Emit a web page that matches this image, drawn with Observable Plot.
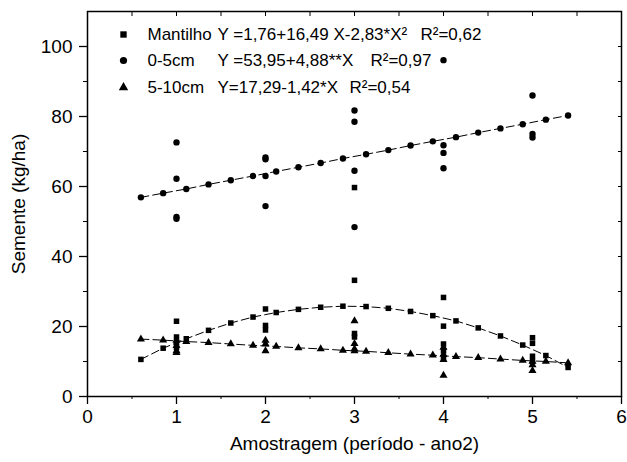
<!DOCTYPE html>
<html>
<head>
<meta charset="utf-8">
<script src="https://cdn.jsdelivr.net/npm/d3@7"></script>
<script src="https://cdn.jsdelivr.net/npm/@observablehq/plot@0.6"></script>
<style>
  html, body { margin: 0; padding: 0; background: white; }
  #chart { width: 627px; height: 462px; }
</style>
</head>
<body>
<div id="chart"></div>
<script>
// ---- data ----
const seriesNames = ["Mantilho", "0-5cm", "5-10cm"];
const seriesSymbols = ["square", "circle", "triangle"];

// fitted-curve points (equal spacing along x)
const fitX = [0.6, 0.85, 1.11, 1.36, 1.61, 1.86, 2.12, 2.37, 2.62, 2.87, 3.13, 3.38, 3.63, 3.88, 4.14, 4.39, 4.64, 4.89, 5.15, 5.4];
const fitMantilho = [10.6, 13.8, 16.5, 18.9, 21.0, 22.7, 24.0, 24.9, 25.5, 25.8, 25.7, 25.2, 24.3, 23.1, 21.6, 19.6, 17.3, 14.7, 11.7, 8.3];
const fit05 = [56.9, 58.1, 59.3, 60.6, 61.8, 63.0, 64.3, 65.5, 66.7, 68.0, 69.2, 70.4, 71.7, 72.9, 74.1, 75.4, 76.6, 77.8, 79.1, 80.3];
const fit510 = [16.4, 16.1, 15.7, 15.4, 15.0, 14.6, 14.3, 13.9, 13.6, 13.2, 12.9, 12.5, 12.1, 11.8, 11.4, 11.1, 10.7, 10.3, 10.0, 9.6];

// observed points
const obsMantilhoX = [1, 1, 1, 1, 2, 2, 2, 3, 3, 3, 3, 4, 4, 4, 4, 4, 5, 5, 5, 5];
const obsMantilhoY = [21.5, 17.0, 15.5, 14.0, 25.0, 20.3, 19.0, 59.7, 33.2, 18.0, 17.0, 28.3, 20.1, 15.0, 13.0, 11.0, 16.8, 15.2, 11.5, 10.0];
const obs05X = [1, 1, 1, 1, 2, 2, 2, 2, 3, 3, 3, 3, 4, 4, 4, 4, 5, 5, 5];
const obs05Y = [72.6, 62.2, 51.3, 50.8, 68.3, 67.8, 63.0, 54.4, 81.7, 78.5, 64.5, 48.4, 96.1, 71.8, 69.6, 65.2, 86.0, 75.0, 74.0];
const obs510X = [1, 1, 1, 1, 2, 2, 2, 3, 3, 3, 3, 4, 4, 4, 4, 5, 5, 5];
const obs510Y = [16.0, 14.5, 13.0, 12.5, 16.0, 15.0, 13.0, 21.6, 15.1, 13.6, 13.0, 14.0, 12.0, 10.5, 6.0, 10.0, 9.0, 7.4];

// legend equation texts
const equations = ["Y =1,76+16,49 X-2,83*X²", "Y =53,95+4,88**X", "Y=17,29-1,42*X"];
const r2Texts = ["R²=0,62", "R²=0,97", "R²=0,54"];

// axes
const xTicks = [0, 1, 2, 3, 4, 5, 6];
const xHalfTicks = [0.5, 1.5, 2.5, 3.5, 4.5, 5.5];
const xAllHalf = [0.5, 1, 1.5, 2, 2.5, 3, 3.5, 4, 4.5, 5, 5.5];
const yTicks = [0, 20, 40, 60, 80, 100];
const yMinorTicks = [10, 30, 50, 70, 90];
const yAllTen = [10, 20, 30, 40, 50, 60, 70, 80, 90, 100];
const xTitle = "Amostragem (período - ano2)";
const yTitle = "Semente (kg/ha)";

// ---- build tables ----
const fitData = [fitMantilho, fit05, fit510].map((ys, s) =>
  ys.map((y, i) => ({x: fitX[i], y, s: seriesNames[s], sym: seriesSymbols[s]}))).flat();
const obsData = [[obsMantilhoX, obsMantilhoY], [obs05X, obs05Y], [obs510X, obs510Y]].map(([xs, ys], s) =>
  ys.map((y, i) => ({x: xs[i], y, s: seriesNames[s], sym: seriesSymbols[s]}))).flat();
const allPts = fitData.concat(obsData);

const rowDy = [23, 49, 76];
const r2Dx = [333, 283, 262];

const legendMarks = [];
seriesNames.forEach((name, i) => {
  legendMarks.push(Plot.dot([seriesSymbols[i]], {frameAnchor: "top-left", dx: 36, dy: rowDy[i], symbol: d => d, r: seriesSymbols[i] === "triangle" ? 3.5 : 3.6, fill: "black", stroke: "none"}));
  legendMarks.push(Plot.text([name], {frameAnchor: "top-left", dx: 60, dy: rowDy[i], text: d => d, textAnchor: "start", lineAnchor: "middle", fontSize: 17, fill: "black"}));
  legendMarks.push(Plot.text([equations[i]], {frameAnchor: "top-left", dx: 130, dy: rowDy[i], text: d => d, textAnchor: "start", lineAnchor: "middle", fontSize: 17, fill: "black"}));
  legendMarks.push(Plot.text([r2Texts[i]], {frameAnchor: "top-left", dx: r2Dx[i], dy: rowDy[i], text: d => d, textAnchor: "start", lineAnchor: "middle", fontSize: 17, fill: "black"}));
});

const chart = Plot.plot({
  width: 627,
  height: 462,
  marginLeft: 87,
  marginRight: 6,
  marginTop: 11,
  marginBottom: 66,
  x: {domain: [0, 6]},
  y: {domain: [0, 110]},
  symbol: {domain: seriesSymbols, range: seriesSymbols},
  style: {fontFamily: "Arial, 'Liberation Sans', sans-serif", fontSize: "19px", color: "black", background: "white"},
  marks: [
    Plot.line(fitData, {x: "x", y: "y", z: "s", stroke: "black", strokeWidth: 1, strokeDasharray: "8,4"}),
    Plot.dot(allPts, {x: "x", y: "y", symbol: "sym", r: d => d.sym === "triangle" ? 3.9 : (d.sym === "square" ? 4.2 : 4.4), fill: "black", stroke: "none"}),
    ...legendMarks,
    Plot.axisX({ticks: xTicks, tickSize: 8, tickPadding: 5, tickFormat: d => String(d), fontSize: 19, strokeWidth: 1.3,
      label: xTitle, labelAnchor: "center", labelOffset: 53, labelArrow: "none"}),
    Plot.axisX({ticks: xHalfTicks, tickSize: 3, tickFormat: () => "", label: null}),
    Plot.axisX({anchor: "top", ticks: xAllHalf, tickSize: -4, tickFormat: () => "", label: null}),
    Plot.axisY({ticks: yTicks, tickSize: 8, tickPadding: 7, tickFormat: d => String(d), fontSize: 19, strokeWidth: 1.3,
      label: yTitle, labelAnchor: "center", labelOffset: 76, labelArrow: "none"}),
    Plot.axisY({ticks: yMinorTicks, tickSize: 4, tickFormat: () => "", label: null}),
    Plot.axisY({anchor: "right", ticks: yAllTen, tickSize: -4, tickFormat: () => "", label: null}),
    Plot.frame({stroke: "black", strokeWidth: 1.5})
  ]
});
document.getElementById("chart").appendChild(chart);
</script>
</body>
</html>
